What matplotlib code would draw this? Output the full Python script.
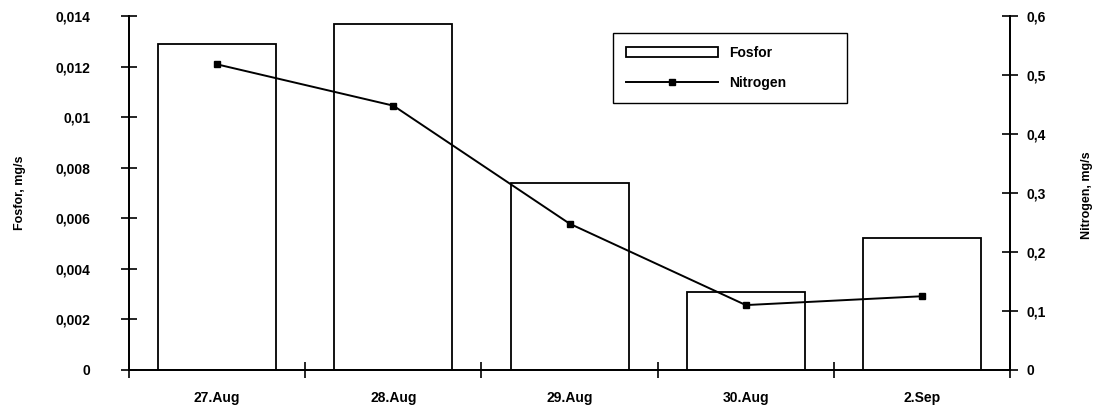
import numpy as np
import matplotlib
matplotlib.use("Agg")
import matplotlib.pyplot as plt

# data
dates = ["27.Aug", "28.Aug", "29.Aug", "30.Aug", "2.Sep"]
fosfor = [0.0129, 0.0137, 0.0074, 0.0031, 0.0052]
nitrogen = [0.518, 0.448, 0.248, 0.110, 0.125]
fosfor_ticks = [0, 0.002, 0.004, 0.006, 0.008, 0.01, 0.012, 0.014]
fosfor_labels = ["0", "0,002", "0,004", "0,006", "0,008", "0,01", "0,012", "0,014"]
nitrogen_ticks = [0, 0.1, 0.2, 0.3, 0.4, 0.5, 0.6]
nitrogen_labels = ["0", "0,1", "0,2", "0,3", "0,4", "0,5", "0,6"]

plt.rcParams["font.family"] = ["Liberation Sans", "DejaVu Sans"]
plt.rcParams["font.weight"] = "bold"

fig = plt.figure(figsize=(10.98, 4.11), dpi=100)
ax = fig.add_axes([0.1175, 0.0998, 0.8025, 0.8613])
ax2 = ax.twinx()

x = np.arange(len(dates))
bars = ax.bar(x, fosfor, width=0.67, facecolor="white", edgecolor="black",
              linewidth=1.3, label="Fosfor", zorder=2)
line, = ax2.plot(x, nitrogen, color="black", linewidth=1.4, marker="s",
                 markersize=5, markerfacecolor="black", label="Nitrogen")

ax.set_xlim(-0.5, len(dates) - 0.5)
ax.set_ylim(0, 0.014)
ax2.set_ylim(0, 0.6)

# category boundaries as major ticks, labels on minor ticks at centres
ax.set_xticks(np.arange(-0.5, len(dates), 1.0))
ax.set_xticklabels([])
ax.set_xticks(x, minor=True)
ax.set_xticklabels(dates, minor=True, fontsize=10, fontweight="bold")
ax.tick_params(axis="x", which="major", direction="inout", length=12, width=1.2)
ax.tick_params(axis="x", which="minor", length=0, pad=15)

ax.set_yticks(fosfor_ticks)
ax.set_yticklabels(fosfor_labels, fontsize=10, fontweight="bold")
ax.tick_params(axis="y", direction="inout", length=12, width=1.2, pad=22)
ax2.set_yticks(nitrogen_ticks)
ax2.set_yticklabels(nitrogen_labels, fontsize=10, fontweight="bold")
ax2.tick_params(axis="y", direction="inout", length=12, width=1.2, pad=6)

for a in (ax, ax2):
    a.spines["top"].set_visible(False)
    for s in ("left", "right", "bottom"):
        a.spines[s].set_linewidth(1.3)

fig.text(20 / 1098, 1 - 193 / 411, "Fosfor, mg/s", rotation=90, ha="center",
         va="center", fontsize=9, fontweight="bold")
fig.text(1087 / 1098, 1 - 195 / 411, "Nitrogen, mg/s", rotation=90, ha="center",
         va="center", fontsize=9, fontweight="bold")

leg = ax2.legend([bars, line], ["Fosfor", "Nitrogen"], loc="upper left",
                 bbox_to_anchor=(0.541, 0.772, 0.2815, 0.2), mode="expand",
                 fancybox=False, edgecolor="black", framealpha=1,
                 handlelength=6.6, handleheight=0.7, handletextpad=0.8,
                 borderpad=0.95, labelspacing=1.15,
                 prop={"weight": "bold", "size": 10})
leg.get_frame().set_linewidth(1.0)

fig.savefig("out.png", dpi=100)
